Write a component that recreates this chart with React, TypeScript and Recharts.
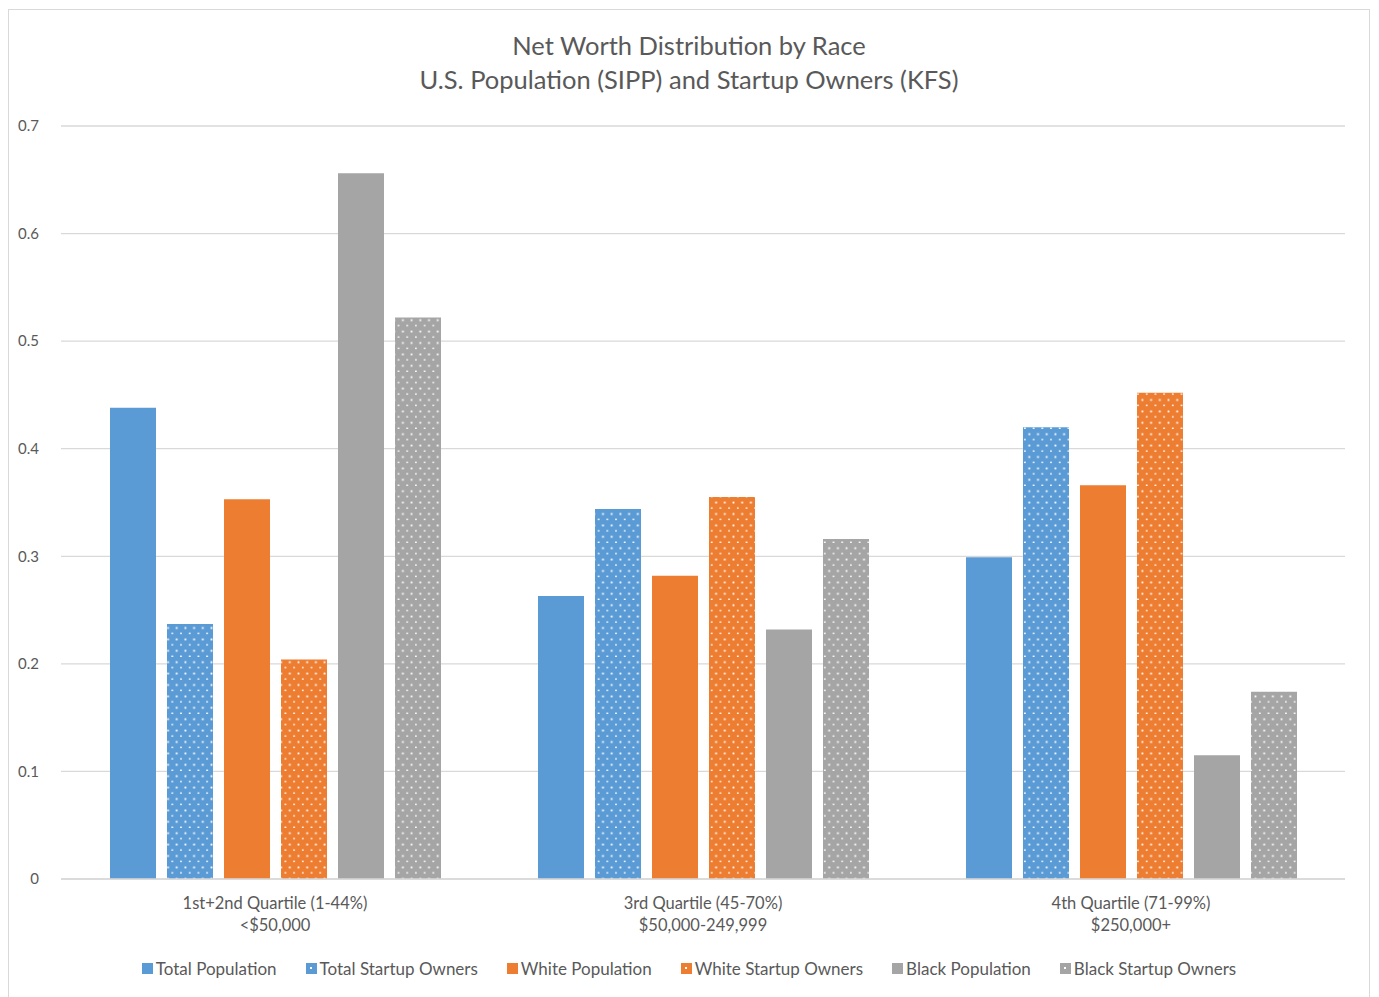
import React from "react";
import { Bar, BarChart, CartesianGrid, Legend, XAxis, YAxis } from "recharts";

const CATEGORIES = ["1st+2nd Quartile (1-44%)", "3rd Quartile (45-70%)", "4th Quartile (71-99%)"];
const RANGES = ["<$50,000", "$50,000-249,999", "$250,000+"];

const TOTAL_POP = [0.438, 0.263, 0.299];
const TOTAL_STARTUP = [0.237, 0.344, 0.42];
const WHITE_POP = [0.353, 0.282, 0.366];
const WHITE_STARTUP = [0.204, 0.355, 0.452];
const BLACK_POP = [0.656, 0.232, 0.115];
const BLACK_STARTUP = [0.522, 0.316, 0.174];

const Y_TICKS = [0, 0.1, 0.2, 0.3, 0.4, 0.5, 0.6, 0.7];

const BLUE = "#5b9bd5";
const ORANGE = "#ed7d31";
const GRAY = "#a5a5a5";
const TEXT = "#595959";
const FONT = "Lato, 'Open Sans', sans-serif";

const SERIES = [
  { key: "totalPop", name: "Total Population", color: BLUE, dotted: false },
  { key: "totalStartup", name: "Total Startup Owners", color: BLUE, dotted: true },
  { key: "whitePop", name: "White Population", color: ORANGE, dotted: false },
  { key: "whiteStartup", name: "White Startup Owners", color: ORANGE, dotted: true },
  { key: "blackPop", name: "Black Population", color: GRAY, dotted: false },
  { key: "blackStartup", name: "Black Startup Owners", color: GRAY, dotted: true },
];

const data = CATEGORIES.map((cat, i) => ({
  cat,
  range: RANGES[i],
  totalPop: TOTAL_POP[i],
  totalStartup: TOTAL_STARTUP[i],
  whitePop: WHITE_POP[i],
  whiteStartup: WHITE_STARTUP[i],
  blackPop: BLACK_POP[i],
  blackStartup: BLACK_STARTUP[i],
}));

function fillFor(s: { key: string; color: string; dotted: boolean }) {
  return s.dotted ? `url(#dots-${s.key})` : s.color;
}

function CategoryTick({ x, y, payload, index }: any) {
  return (
    <text x={x} y={y} textAnchor="middle" fill={TEXT} fontSize={16.5} fontFamily={FONT}>
      <tspan x={x} dy={22}>{payload.value}</tspan>
      <tspan x={x} dy={22}>{RANGES[index]}</tspan>
    </text>
  );
}

function LegendBox() {
  return (
    <div
      style={{
        display: "flex",
        justifyContent: "center",
        gap: 29,
        fontFamily: FONT,
        fontSize: 17,
        color: TEXT,
      }}
    >
      {SERIES.map((s) => (
        <div key={s.key} style={{ display: "flex", alignItems: "center" }}>
          <svg width={11} height={11} style={{ marginRight: 3 }}>
            <rect width={11} height={11} fill={s.color} />
            {s.dotted ? <rect x={4} y={4} width={2} height={2} fill="#fff" /> : null}
          </svg>
          <span>{s.name}</span>
        </div>
      ))}
    </div>
  );
}

export default function App() {
  return (
    <div
      style={{
        position: "relative",
        width: 1362,
        height: 995,
        marginTop: 1,
        border: "1.5px solid #d9d9d9",
        boxSizing: "border-box",
        background: "#fff",
      }}
    >
      <div
        style={{
          position: "absolute",
          top: 18,
          left: 0,
          width: "100%",
          textAlign: "center",
          fontFamily: FONT,
          fontSize: 25.5,
          lineHeight: "34px",
          color: TEXT,
        }}
      >
        <div>Net Worth Distribution by Race</div>
        <div>U.S. Population (SIPP) and Startup Owners (KFS)</div>
      </div>
      <BarChart
        width={1360}
        height={990}
        data={data}
        margin={{ top: 116, right: 24, bottom: 0, left: 10 }}
        barSize={46}
        barGap={11}
      >
        <defs>
          {SERIES.filter((s) => s.dotted).map((s) => (
            <pattern key={s.key} id={`dots-${s.key}`} width={8.7} height={11.4} patternUnits="userSpaceOnUse">
              <rect width={8.7} height={11.4} fill={s.color} />
              <rect x={1.5} y={1.5} width={1.8} height={1.8} fill="#fff" />
              <rect x={5.8} y={7.2} width={1.8} height={1.3} fill="#fff" />
            </pattern>
          ))}
        </defs>
        <CartesianGrid vertical={false} stroke="#d9d9d9" strokeWidth={1.3} />
        <XAxis
          dataKey="cat"
          tick={<CategoryTick />}
          tickLine={false}
          axisLine={{ stroke: "#d9d9d9", strokeWidth: 1.3 }}
          height={100}
          interval={0}
        />
        <YAxis
          domain={[0, 0.7]}
          ticks={Y_TICKS}
          tickFormatter={(v: number) => (v === 0 ? "0" : String(v))}
          tickLine={false}
          axisLine={false}
          tickMargin={16}
          width={42}
          tick={{ fill: TEXT, fontSize: 15, fontFamily: FONT }}
        />
        <Legend
          content={<LegendBox />}
          verticalAlign="bottom"
          wrapperStyle={{ bottom: 21, left: 0, width: 1360 }}
        />
        {SERIES.map((s) => (
          <Bar
            key={s.key}
            dataKey={s.key}
            name={s.name}
            fill={fillFor(s)}
            isAnimationActive={false}
          />
        ))}
      </BarChart>
    </div>
  );
}
